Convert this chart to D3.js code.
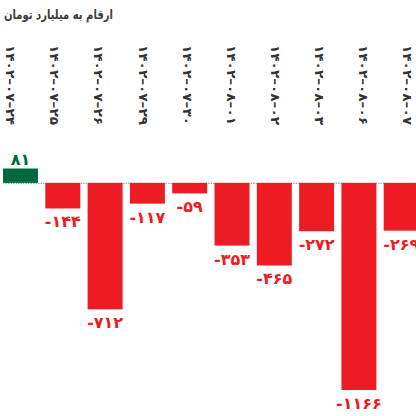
<!DOCTYPE html>
<html><head><meta charset="utf-8">
<script src="https://cdn.jsdelivr.net/npm/d3@7"></script>
<style>html,body{margin:0;padding:0;background:#fff;}svg{display:block;}</style>
</head><body>
<script>
const categories = ["۱۴۰۲-۰۷-۲۴","۱۴۰۲-۰۷-۲۵","۱۴۰۲-۰۷-۲۶","۱۴۰۲-۰۷-۲۹","۱۴۰۲-۰۷-۳۰","۱۴۰۲-۰۸-۰۱","۱۴۰۲-۰۸-۰۲","۱۴۰۲-۰۸-۰۳","۱۴۰۲-۰۸-۰۶","۱۴۰۲-۰۸-۰۷"];
const values = [81, -144, -712, -117, -59, -353, -465, -272, -1166, -269];
const title = "ارقام به میلیارد تومان";

const toFa = s => String(s).replace(/\d/g, d => "۰۱۲۳۴۵۶۷۸۹"[d]);
const LRO = "\u202D", PDF = "\u202C";
const W = 416, H = 416;
const svg = d3.select("body").append("svg").attr("width", W).attr("height", H);
const font = "'DejaVu Sans', sans-serif";

const x = d3.scaleBand().domain(categories).range([3, 418.7]).paddingInner(0.173).paddingOuter(0);
const y = d3.scaleLinear().domain([-1166, 81]).range([390, 168.5]);
const lx = d3.scaleBand().domain(categories).range([-11.5, 430]).padding(0);

// title
svg.append("text").attr("x", 4).attr("y", 18.5)
  .attr("text-anchor", "start")
  .attr("textLength", 109).attr("lengthAdjust", "spacingAndGlyphs")
  .attr("font-family", font).attr("font-weight", "bold").attr("font-size", 13)
  .attr("fill", "#3c3c3c").text(title);

// category labels (rotated)
svg.append("g").selectAll("text").data(categories).join("text")
  .attr("transform", d => `translate(${lx(d) + lx.bandwidth()/2 - 4.5},45) rotate(90)`)
  .attr("text-anchor", "start").attr("direction", "ltr")
  .attr("textLength", 80).attr("lengthAdjust", "spacingAndGlyphs")
  .attr("font-family", font).attr("font-weight", "bold").attr("font-size", 12.5)
  .attr("fill", "#333").text(d => LRO + d.replace(/-/g, "–") + PDF);

// zero line
svg.append("line").attr("x1", 3).attr("x2", 416).attr("y1", y(0) + 0.5).attr("y2", y(0) + 0.5)
  .attr("stroke", "#aaa").attr("stroke-width", 1.2).attr("stroke-dasharray", "1.5,1");

// bars
svg.append("g").selectAll("rect").data(values).join("rect")
  .attr("x", (d, i) => x(categories[i]))
  .attr("width", x.bandwidth())
  .attr("y", d => y(Math.max(0, d)))
  .attr("height", d => Math.abs(y(d) - y(0)))
  .attr("fill", d => d >= 0 ? "#006a3e" : "#ed1c24");

// value labels
svg.append("g").selectAll("text").data(values).join("text")
  .attr("x", (d, i) => x(categories[i]) + x.bandwidth()/2)
  .attr("y", d => d >= 0 ? y(d) - 4 : y(d) + 19)
  .attr("text-anchor", "middle").attr("direction", "ltr")
  .attr("font-family", font).attr("font-weight", "bold").attr("font-size", 16)
  .attr("fill", d => d >= 0 ? "#006a3e" : "#ed1c24")
  .text(d => LRO + (d < 0 ? "-" + toFa(Math.abs(d)) : toFa(d)) + PDF);
</script>
</body></html>
